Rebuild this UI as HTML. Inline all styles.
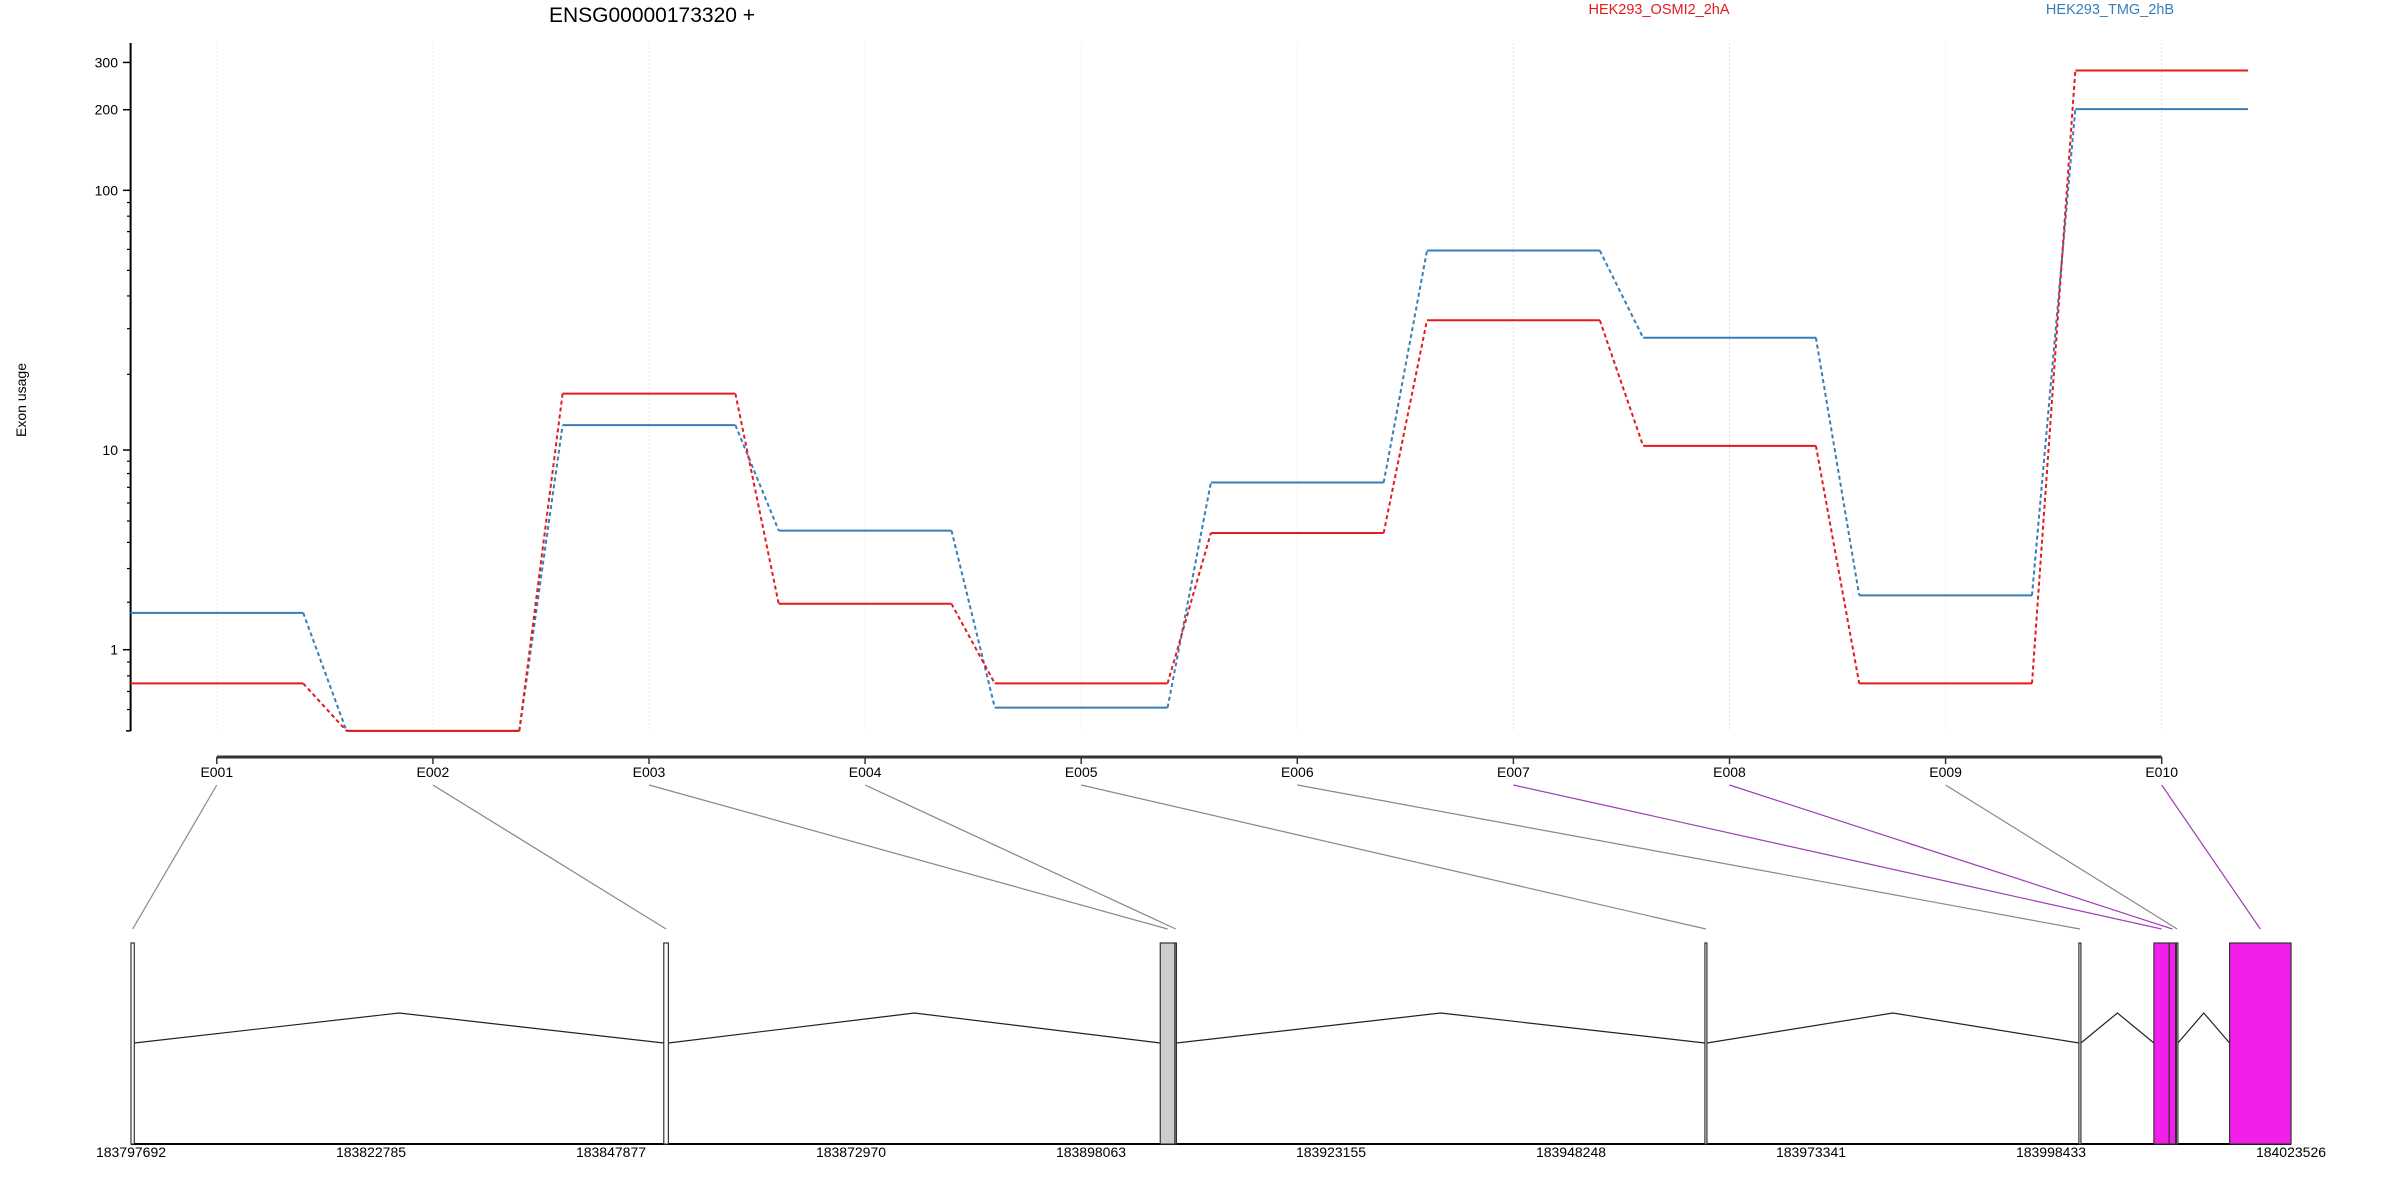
<!DOCTYPE html>
<html><head><meta charset="utf-8"><title>Exon usage ENSG00000173320</title>
<style>
html,body{margin:0;padding:0;background:#fff;}
svg{display:block;font-family:"Liberation Sans",Arial,sans-serif;}
</style></head>
<body>
<svg id="chart" width="2400" height="1200" viewBox="0 0 2400 1200" xmlns="http://www.w3.org/2000/svg">
<rect x="0" y="0" width="2400" height="1200" fill="#fff"/>
<text x="652" y="22" font-size="21" text-anchor="middle" fill="#000">ENSG00000173320 +</text>
<text x="1659" y="14" font-size="14.5" text-anchor="middle" fill="#e41a1c">HEK293_OSMI2_2hA</text>
<text x="2110" y="14" font-size="14.5" text-anchor="middle" fill="#377eb8">HEK293_TMG_2hB</text>
<text transform="translate(26,400) rotate(-90)" font-size="14" text-anchor="middle" fill="#000">Exon usage</text>
<g id="grid"></g>
<g id="yaxis"></g>
<g id="xaxis"></g>
<g id="series"></g>
<g id="connectors"></g>
<g id="genemodel"></g>
</svg>
<script>
// ---- data ----
const exonIds = ["E001","E002","E003","E004","E005","E006","E007","E008","E009","E010"];
const osmiValues = [0.5, 0, 16.8, 1.96, 0.5, 4.42, 32.3, 10.4, 0.5, 280];
const tmgValues = [1.74, 0, 12.6, 4.53, 0.22, 7.34, 59.4, 27.7, 2.18, 201];
const yTickValues = [1, 10, 100, 200, 300];
const yTickLabels = ["1", "10", "100", "200", "300"];
const yMinorValues = [0.2, 0.4, 0.6, 0.8, 2, 3, 4, 5, 6, 7, 8, 9, 20, 30, 40, 50, 60, 70, 80, 90];
const highlighted = [false, false, false, false, false, false, true, true, false, true];
const exonStarts = [183797692, 183853395, 183905304, 183906840, 183962250, 184001351, 184009192, 184010792, 184011545, 184017107];
const exonEnds = [183798037, 183853876, 183906840, 183906997, 183962459, 184001560, 184010792, 184011461, 184011702, 184023526];
const exonFills = ["#ffffff", "#ffffff", "#cccccc", "#cccccc", "#ffffff", "#ffffff", "#f21eea", "#f21eea", "#ffffff", "#f21eea"];
const genomeTickLabels = ["183797692","183822785","183847877","183872970","183898063","183923155","183948248","183973341","183998433","184023526"];
const genomeMin = 183797692, genomeMax = 184023526;

// ---- scales ----
const NS = "http://www.w3.org/2000/svg";
function yScale(v){ return 730.9 - Math.log10(v + 1) * 269.7; }
function xScale(i){ return 216.8 + i * 216.1; }
function gScale(g){ return 131 + (g - genomeMin) / (genomeMax - genomeMin) * 2160; }
function mk(tag, attrs, parent){
  const el = document.createElementNS(NS, tag);
  for (const k in attrs) el.setAttribute(k, attrs[k]);
  parent.appendChild(el);
  return el;
}
const grid = document.getElementById("grid");
const yaxis = document.getElementById("yaxis");
const xaxis = document.getElementById("xaxis");
const series = document.getElementById("series");
const conns = document.getElementById("connectors");
const gm = document.getElementById("genemodel");

// grid
exonIds.forEach((id, i) => {
  const l = mk("line", {x1: xScale(i), x2: xScale(i), y1: 43, y2: 731, stroke: highlighted[i] ? "#f6d0f4" : "#eeeeee", "stroke-width": 1, "stroke-dasharray": "2,2"}, grid);
  
  
});

// y axis
const yl = mk("line", {x1: 130.6, x2: 130.6, y1: 43, y2: 731, stroke: "#000", "stroke-width": 2}, yaxis);


yTickValues.forEach((v, i) => {
  const t = mk("line", {x1: 123, x2: 130.6, y1: yScale(v), y2: yScale(v), stroke: "#000", "stroke-width": 1.5}, yaxis);
  
  
  const tx = mk("text", {x: 118, y: yScale(v) + 5, "font-size": 14, "text-anchor": "end", fill: "#000"}, yaxis);
  tx.textContent = yTickLabels[i];
  
  
});
yMinorValues.forEach(v => {
  const t = mk("line", {x1: 127, x2: 130.6, y1: yScale(v), y2: yScale(v), stroke: "#000", "stroke-width": 1.2}, yaxis);
  
  
});
const y0 = mk("line", {x1: 126, x2: 130.6, y1: yScale(0), y2: yScale(0), stroke: "#000", "stroke-width": 1.5}, yaxis);



// x axis
const xl = mk("line", {x1: xScale(0), x2: xScale(exonIds.length - 1), y1: 757, y2: 757, stroke: "#333", "stroke-width": 3}, xaxis);


exonIds.forEach((id, i) => {
  const t = mk("line", {x1: xScale(i), x2: xScale(i), y1: 757, y2: 764, stroke: "#333", "stroke-width": 1.5}, xaxis);
  
  
  const tx = mk("text", {x: xScale(i), y: 777, "font-size": 14, "text-anchor": "middle", fill: "#000"}, xaxis);
  tx.textContent = id;
  
  
});

// series
function drawSeries(vals, color, name){
  const hw = 86.4;
  vals.forEach((v, i) => {
    const s = mk("line", {x1: xScale(i) - hw, x2: xScale(i) + hw, y1: yScale(v), y2: yScale(v), stroke: color, "stroke-width": 2}, series);
    
    
    if (i > 0) {
      const d = mk("line", {x1: xScale(i - 1) + hw, y1: yScale(vals[i - 1]), x2: xScale(i) - hw, y2: yScale(v), stroke: color, "stroke-width": 2, "stroke-dasharray": "4,3"}, series);
      
      
    }
  });
}
drawSeries(tmgValues, "#377eb8", "tmg-line");
drawSeries(osmiValues, "#e41a1c", "osmi2-line");

// connectors
exonIds.forEach((id, i) => {
  const mid = gScale((exonStarts[i] + exonEnds[i]) / 2);
  const c = mk("line", {x1: xScale(i), y1: 785, x2: mid, y2: 929, stroke: highlighted[i] ? "#a03cb4" : "#888", "stroke-width": 1.2}, conns);
  
  
});

// gene model
const ga = mk("line", {x1: 130.7, x2: 2291, y1: 1144, y2: 1144, stroke: "#000", "stroke-width": 2}, gm);


genomeTickLabels.forEach((lab, i) => {
  const t = mk("text", {x: gScale(Number(lab)), y: 1157, "font-size": 14, "text-anchor": "middle", fill: "#000"}, gm);
  t.textContent = lab;
  
  
});
// introns
for (let i = 1; i < exonIds.length; i++) {
  const a = gScale(exonEnds[i - 1]), b = gScale(exonStarts[i]);
  if (b - a > 5) {
    const p = mk("polyline", {points: a + ",1043 " + ((a + b) / 2) + ",1013 " + b + ",1043", fill: "none", stroke: "#222", "stroke-width": 1.2}, gm);
    
    
  }
}
// exons
exonIds.forEach((id, i) => {
  const x1 = gScale(exonStarts[i]), x2 = gScale(exonEnds[i]);
  const r = mk("rect", {x: x1, y: 943, width: Math.max(x2 - x1, 1.2), height: 201, fill: exonFills[i], stroke: "#333", "stroke-width": 1.2}, gm);
  
  
});
</script>
</body></html>
